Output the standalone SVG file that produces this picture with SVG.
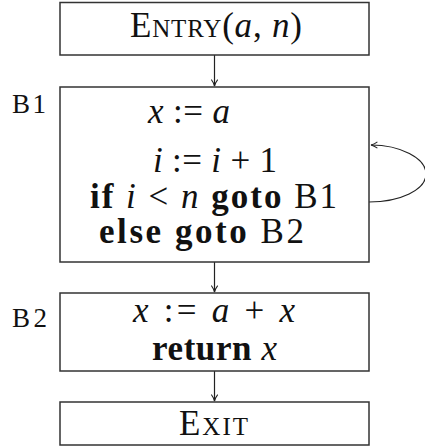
<svg xmlns="http://www.w3.org/2000/svg" width="425" height="447" viewBox="0 0 425 447">
<style>
.box{fill:#fff;stroke:#333;stroke-width:1.5}
.t{font-family:"Liberation Serif","Times New Roman",serif;font-size:35px;fill:#111}
.lbl{font-family:"Liberation Serif","Times New Roman",serif;font-size:27px;fill:#111}
.m{font-style:italic}
.b{font-weight:bold}
.sc{font-variant:small-caps}
.edge{fill:none;stroke:#222;stroke-width:1.2}
</style>
<defs>
<marker id="ah" viewBox="0 0 10 10" refX="9" refY="5" markerWidth="8" markerHeight="8" markerUnits="userSpaceOnUse" orient="auto">
<path d="M1,1 Q5,4 9,5 Q5,6 1,9" fill="none" stroke="#222" stroke-width="1.3"/>
</marker>
</defs>
<g id="connectors">
<line class="edge" x1="214.5" y1="55" x2="214.5" y2="86" marker-end="url(#ah)"/>
<line class="edge" x1="214.5" y1="262" x2="214.5" y2="292" marker-end="url(#ah)"/>
<line class="edge" x1="214.5" y1="371" x2="214.5" y2="401" marker-end="url(#ah)"/>
<path class="edge" d="M369,202 C400,202 426,190 426,174 C426,158 400,145 371,145" marker-end="url(#ah)"/>
</g>
<g id="entry">
<rect class="box" x="60" y="2.5" width="309" height="52.5"/>
<text class="t" x="130" y="37" textLength="172"><tspan class="sc">Entry</tspan>(<tspan class="m">a</tspan>, <tspan class="m">n</tspan>)</text>
</g>
<g id="b1">
<rect class="box" x="60" y="87" width="309" height="175"/>
<text class="lbl" x="12" y="113" textLength="34">B1</text>
<text class="t" x="148" y="123" textLength="82"><tspan class="m">x</tspan> := <tspan class="m">a</tspan></text>
<text class="t" x="153" y="172" textLength="124"><tspan class="m">i</tspan> := <tspan class="m">i</tspan> + 1</text>
<text class="t" x="90" y="208" textLength="247"><tspan class="b">if</tspan>  <tspan class="m">i</tspan> &lt; <tspan class="m">n</tspan> <tspan class="b">goto</tspan> B1</text>
<text class="t" x="99" y="243" textLength="205"><tspan class="b">else goto</tspan> B2</text>
</g>
<g id="b2">
<rect class="box" x="60" y="293" width="309" height="78"/>
<text class="lbl" x="12" y="327" textLength="35">B2</text>
<text class="t" x="133" y="322" textLength="162"><tspan class="m">x</tspan>  :=  <tspan class="m">a</tspan> + <tspan class="m">x</tspan></text>
<text class="t" x="152" y="360" textLength="125"><tspan class="b">return</tspan> <tspan class="m">x</tspan></text>
</g>
<g id="exit">
<rect class="box" x="60" y="402" width="309" height="43"/>
<text class="t" x="179" y="435" textLength="69"><tspan class="sc">Exit</tspan></text>
</g>
</svg>
